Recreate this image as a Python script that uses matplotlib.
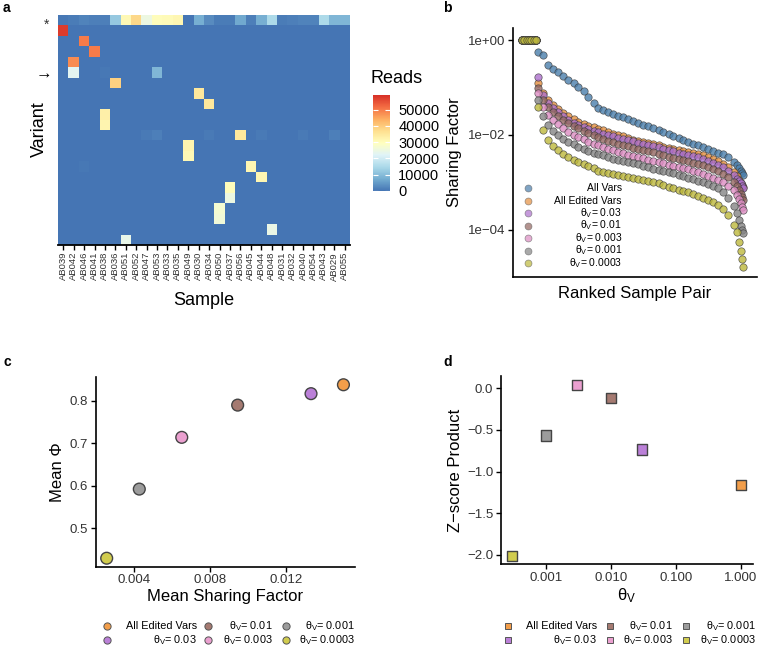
import numpy as np
import matplotlib
matplotlib.use('Agg')
import matplotlib.pyplot as plt
from matplotlib.colors import LinearSegmentedColormap
from matplotlib.lines import Line2D

plt.rcParams['font.family'] = ['Liberation Sans', 'DejaVu Sans']
plt.rcParams['mathtext.fontset'] = 'custom'
plt.rcParams['mathtext.rm'] = 'Liberation Sans'
plt.rcParams['mathtext.it'] = 'Liberation Sans:italic'
plt.rcParams['mathtext.bf'] = 'Liberation Sans:bold'

W, H = 758, 648

# ---------------- panel a data ----------------
samples = ['AB039', 'AB042', 'AB046', 'AB041', 'AB038', 'AB036', 'AB051', 'AB052',
           'AB047', 'AB053', 'AB033', 'AB035', 'AB049', 'AB030', 'AB034', 'AB050',
           'AB037', 'AB056', 'AB045', 'AB044', 'AB048', 'AB031', 'AB032', 'AB040',
           'AB054', 'AB043', 'AB029', 'AB055']
n_variants = 22
star_reads = [500, 1000, 2000, 1500, 1500, 12000, 31000, 38000, 25000, 30000, 30500,
              31500, 0, 8000, 3000, 1000, 1000, 7000, 1500, 8000, 15000, 1000, 1500,
              2000, 2000, 15000, 9000, 9000]
cell_variant = [1, 2, 3, 4, 5, 5, 6, 7, 8, 9, 10, 11, 12, 13, 14, 15, 16, 17, 18, 19, 20, 21,
                11, 11, 11, 11, 11, 11, 14, 5]
cell_sample = ['AB039', 'AB046', 'AB041', 'AB042', 'AB042', 'AB053', 'AB036', 'AB030',
               'AB034', 'AB038', 'AB038', 'AB056', 'AB049', 'AB049', 'AB045', 'AB044',
               'AB037', 'AB037', 'AB050', 'AB050', 'AB048', 'AB051',
               'AB047', 'AB053', 'AB034', 'AB044', 'AB040', 'AB029', 'AB046', 'AB038']
cell_reads = [57500, 50000, 50000, 48000, 23000, 9000, 39000, 35000, 35000, 33000, 32000,
              35000, 32000, 31000, 31500, 31500, 30000, 25000, 27000, 26500, 24500, 24000,
              700, 1500, 900, 700, 900, 1500, 500, 500]
reads_max = 59000
reads_ticks = [0, 10000, 20000, 30000, 40000, 50000]
heat_colors = ['#4575b4', '#74add1', '#abd9e9', '#e0f3f8', '#ffffbf',
               '#fee090', '#fdae61', '#f46d43', '#d73027']

# ---------------- panel b data (log10 of sharing factor) ----------------
pair_rank = [1, 5, 9, 13, 17, 21, 25,
             29, 37, 46, 54, 63, 71, 80, 89, 97, 106, 114, 123, 131, 140, 148, 157,
             165, 174, 182, 191, 199, 208, 216, 225, 234, 242, 251, 259, 268, 276,
             285, 293, 302, 310, 319, 327, 336, 344, 353, 362, 367, 371, 375, 377, 378]
flat = [0.0] * 7
lsf_all_vars = flat + [
    -0.25, -0.31, -0.53, -0.60, -0.67, -0.76, -0.84, -0.91, -0.98, -1.08, -1.19, -1.32,
    -1.44, -1.48, -1.51, -1.55, -1.59, -1.62, -1.66, -1.71, -1.75, -1.78, -1.82, -1.86,
    -1.90, -1.94, -1.98, -2.03, -2.06, -2.10, -2.14, -2.18, -2.22, -2.26, -2.30, -2.34,
    -2.37, -2.41, -2.47, -2.56, -2.63, -2.69, -2.75, -2.79, -2.84]
lsf_all_edited = flat + [
    -0.91, -1.12, -1.26, -1.37, -1.46, -1.54, -1.61, -1.67, -1.72, -1.77, -1.81, -1.84,
    -1.87, -1.90, -1.93, -1.97, -2.00, -2.03, -2.07, -2.10, -2.12, -2.14, -2.17, -2.19,
    -2.22, -2.25, -2.28, -2.30, -2.32, -2.34, -2.36, -2.38, -2.41, -2.43, -2.47, -2.51,
    -2.55, -2.61, -2.68, -2.78, -2.87, -2.94, -3.01, -3.05, -3.09]
lsf_t0_03 = flat + [
    -0.77, -1.15, -1.32, -1.43, -1.52, -1.61, -1.68, -1.74, -1.79, -1.84, -1.88, -1.91,
    -1.94, -1.97, -2.00, -2.03, -2.06, -2.08, -2.11, -2.13, -2.16, -2.18, -2.21, -2.23,
    -2.26, -2.29, -2.32, -2.34, -2.37, -2.39, -2.42, -2.44, -2.47, -2.50, -2.54, -2.58,
    -2.63, -2.68, -2.75, -2.85, -2.92, -2.97, -3.02, -3.07, -3.12]
lsf_t0_01 = flat + [
    -1.02, -1.27, -1.41, -1.51, -1.60, -1.68, -1.75, -1.81, -1.86, -1.91, -1.96, -2.00,
    -2.04, -2.08, -2.12, -2.15, -2.18, -2.21, -2.24, -2.27, -2.29, -2.31, -2.34, -2.36,
    -2.39, -2.43, -2.46, -2.48, -2.50, -2.52, -2.55, -2.58, -2.61, -2.64, -2.68, -2.72,
    -2.76, -2.82, -2.89, -2.98, -3.08, -3.16, -3.25, -3.31, -3.37]
lsf_t0_003 = flat + [
    -1.12, -1.40, -1.57, -1.68, -1.77, -1.86, -1.93, -1.99, -2.04, -2.09, -2.14, -2.18,
    -2.22, -2.26, -2.29, -2.32, -2.35, -2.38, -2.42, -2.45, -2.47, -2.49, -2.52, -2.54,
    -2.57, -2.60, -2.63, -2.65, -2.67, -2.69, -2.72, -2.75, -2.78, -2.82, -2.86, -2.90,
    -2.94, -3.00, -3.07, -3.16, -3.26, -3.34, -3.44, -3.51, -3.58]
lsf_t0_001 = flat + [
    -1.26, -1.59, -1.79, -1.92, -2.01, -2.08, -2.14, -2.20, -2.25, -2.30, -2.34, -2.37,
    -2.40, -2.43, -2.46, -2.50, -2.53, -2.55, -2.57, -2.59, -2.62, -2.65, -2.68, -2.71,
    -2.73, -2.75, -2.77, -2.80, -2.84, -2.87, -2.90, -2.93, -2.96, -2.99, -3.03, -3.07,
    -3.12, -3.20, -3.32, -3.50, -3.65, -3.79, -3.92, -4.00, -4.07]
lsf_t0_0003 = flat + [
    -1.40, -1.89, -2.11, -2.23, -2.32, -2.40, -2.46, -2.52, -2.57, -2.62, -2.66, -2.70,
    -2.75, -2.78, -2.80, -2.82, -2.84, -2.86, -2.88, -2.90, -2.92, -2.94, -2.96, -2.99,
    -3.02, -3.06, -3.09, -3.12, -3.15, -3.18, -3.21, -3.25, -3.28, -3.32, -3.37, -3.42,
    -3.48, -3.56, -3.68, -3.90, -4.04, -4.25, -4.45, -4.62, -4.77]

# ---------------- panel c / d data ----------------
theta_names = ['All Edited Vars', '0.03', '0.01', '0.003', '0.001', '0.0003']
mean_sharing = [0.01505, 0.01334, 0.00947, 0.00652, 0.00428, 0.00256]
mean_phi = [0.838, 0.817, 0.790, 0.714, 0.592, 0.429]
theta_v = [1.0, 0.03, 0.01, 0.003, 0.001, 0.0003]
zscore_product = [-1.16, -0.736, -0.113, 0.043, -0.568, -2.01]

cols6 = ['#f39e4a', '#bb80d8', '#a57a71', '#eba0d0', '#9c9c9c', '#d1cc4e']
cols_b = ['#4a7eab', '#e58f3f', '#ad70cc', '#936660', '#dc8cc2', '#858585', '#bdb83c']


def lab(name):
    if name.startswith('All'):
        return name
    return 'θ$_{\\mathregular{V}}$= ' + name


def rect(l, t, r, b):
    return [l / W, 1 - b / H, (r - l) / W, (b - t) / H]


def fx(x):
    return x / W


def fy(y):
    return 1 - y / H


fig = plt.figure(figsize=(W / 100, H / 100), dpi=100)
tick_col = '#333333'

# ================= panel a =================
axA = fig.add_axes(rect(58, 15, 350, 245))
mat = np.zeros((n_variants, len(samples)))
mat[0, :] = star_reads
for v, s, r in zip(cell_variant, cell_sample, cell_reads):
    mat[v, samples.index(s)] = r
cmap = LinearSegmentedColormap.from_list('rdylbu_r', heat_colors)
im = axA.imshow(mat, cmap=cmap, vmin=0, vmax=reads_max, aspect='auto',
                interpolation='nearest',
                extent=(-0.5, len(samples) - 0.5, n_variants - 0.5, -0.5))
axA.set_xticks(range(len(samples)))
axA.set_xticklabels(samples, rotation=90, fontsize=6.8, color=tick_col)
axA.set_yticks([])
for s in ['top', 'right', 'left']:
    axA.spines[s].set_visible(False)
axA.spines['bottom'].set_linewidth(1.3)
axA.tick_params(axis='x', length=3.5, width=1, pad=1.5)
fig.text(fx(39.5), fy(129), 'Variant', rotation=90, fontsize=13, ha='center', va='center')
fig.text(fx(204), fy(305), 'Sample', fontsize=13, ha='center', va='baseline')
fig.text(fx(47), fy(25), '*', fontsize=10, ha='center', va='center', color='#333333')
fig.text(fx(44), fy(74), '→', fontsize=12, ha='center', va='center')
fig.text(fx(3), fy(12), 'a', fontsize=10, fontweight='bold', ha='left', va='baseline')

cax = fig.add_axes(rect(373, 95, 390, 191))
cb = fig.colorbar(im, cax=cax, ticks=reads_ticks)
cb.outline.set_visible(False)
cax.yaxis.set_ticks_position('both')
cax.tick_params(direction='in', length=3.5, color='white', width=0.8,
                labelsize=10.5, pad=6, labelright=True, labelleft=False)
cb.set_ticklabels([str(t) for t in reads_ticks])
fig.text(fx(370), fy(83), 'Reads', fontsize=13, ha='left', va='baseline')

# ================= panel b =================
axB = fig.add_axes(rect(513, 28, 757, 277))
series_b = [('All Vars', lsf_all_vars, cols_b[0]),
            ('All Edited Vars', lsf_all_edited, cols_b[1]),
            ('0.03', lsf_t0_03, cols_b[2]),
            ('0.01', lsf_t0_01, cols_b[3]),
            ('0.003', lsf_t0_003, cols_b[4]),
            ('0.001', lsf_t0_001, cols_b[5]),
            ('0.0003', lsf_t0_0003, cols_b[6])]
for name, vals, c in series_b:
    axB.scatter(pair_rank, 10 ** np.array(vals), s=28, facecolor=c,
                edgecolor='#3a3a3a', linewidth=0.5, alpha=0.8, zorder=3)
axB.set_yscale('log')
axB.set_ylim(10 ** -4.99, 10 ** 0.253)
axB.set_xlim(-14.4, 401.9)
axB.set_yticks([1, 1e-2, 1e-4])
axB.set_yticklabels(['1e+00', '1e−02', '1e−04'], fontsize=9.5, color=tick_col)
axB.yaxis.set_minor_locator(matplotlib.ticker.NullLocator())
axB.set_xticks([])
for s in ['top', 'right']:
    axB.spines[s].set_visible(False)
for s in ['left', 'bottom']:
    axB.spines[s].set_linewidth(1.2)
axB.tick_params(axis='y', length=3.5, width=1, pad=2)
fig.text(fx(454), fy(152.5), 'Sharing Factor', rotation=90, fontsize=12, ha='center', va='center')
fig.text(fx(635), fy(298), 'Ranked Sample Pair', fontsize=12, ha='center', va='baseline')
fig.text(fx(443), fy(12), 'b', fontsize=10, fontweight='bold', ha='left', va='baseline')
for i, (name, vals, c) in enumerate(series_b):
    yy = 188 + 12.5 * i
    fig.add_artist(Line2D([fx(528)], [fy(yy)], transform=fig.transFigure, marker='o',
                          markersize=5.0, markerfacecolor=c, markeredgecolor='#666666',
                          markeredgewidth=0.5, alpha=0.7, linestyle='none'))
    fig.text(fx(622), fy(yy), lab(name), fontsize=7.5, ha='right', va='center')

# ================= panel c =================
axC = fig.add_axes(rect(95.7, 376.7, 355, 566.7))
axC.scatter(mean_sharing, mean_phi, s=72, c=cols6, edgecolor='#444444', linewidth=1.0, zorder=3)
axC.set_xlim(0.00198, 0.01566)
axC.set_ylim(0.409, 0.857)
axC.set_xticks([0.004, 0.008, 0.012])
axC.set_xticklabels(['0.004', '0.008', '0.012'], fontsize=9.5, color=tick_col)
axC.set_yticks([0.5, 0.6, 0.7, 0.8])
axC.set_yticklabels(['0.5', '0.6', '0.7', '0.8'], fontsize=9.5, color=tick_col)
for s in ['top', 'right']:
    axC.spines[s].set_visible(False)
for s in ['left', 'bottom']:
    axC.spines[s].set_linewidth(1.2)
axC.tick_params(length=3.5, width=1, pad=2)
fig.text(fx(57), fy(471.7), 'Mean Φ', rotation=90, fontsize=12, ha='center', va='center')
fig.text(fx(225), fy(601), 'Mean Sharing Factor', fontsize=12, ha='center', va='baseline')
fig.text(fx(3), fy(366), 'c', fontsize=10, fontweight='bold', ha='left', va='baseline')

# ================= panel d =================
axD = fig.add_axes(rect(501, 376, 753, 564.3))
axD.scatter(theta_v, zscore_product, s=56, marker='s', c=cols6, edgecolor='#444444',
            linewidth=1.0, zorder=3)
axD.set_xscale('log')
axD.set_xlim(10 ** -3.69, 10 ** 0.185)
axD.set_ylim(-2.112, 0.148)
axD.set_xticks([0.001, 0.01, 0.1, 1.0])
axD.set_xticklabels(['0.001', '0.010', '0.100', '1.000'], fontsize=9.5, color=tick_col)
axD.xaxis.set_minor_locator(matplotlib.ticker.NullLocator())
axD.set_yticks([-2.0, -1.5, -1.0, -0.5, 0.0])
axD.set_yticklabels(['−2.0', '−1.5', '−1.0', '−0.5', '0.0'], fontsize=9.5, color=tick_col)
for s in ['top', 'right']:
    axD.spines[s].set_visible(False)
for s in ['left', 'bottom']:
    axD.spines[s].set_linewidth(1.2)
axD.tick_params(length=3.5, width=1, pad=2)
fig.text(fx(455), fy(470), 'Z−score Product', rotation=90, fontsize=12, ha='center', va='center')
fig.text(fx(627), fy(600), 'θ$_{\\mathregular{V}}$', fontsize=12, ha='center', va='baseline')
fig.text(fx(443), fy(366), 'd', fontsize=10, fontweight='bold', ha='left', va='baseline')

# ================= legends c / d =================
rows_y = [626, 640]
leg_c_mx = [107, 208, 286]
leg_c_tx = [197, 273, 355]
leg_d_mx = [508, 610, 686]
leg_d_tx = [597, 673, 756]
for i, name in enumerate(theta_names):
    col, row = i // 2, i % 2
    for mxs, txs, mk in [(leg_c_mx, leg_c_tx, 'o'), (leg_d_mx, leg_d_tx, 's')]:
        fig.add_artist(Line2D([fx(mxs[col])], [fy(rows_y[row])], transform=fig.transFigure,
                              marker=mk, markersize=5.2 if mk == 'o' else 4.8,
                              markerfacecolor=cols6[i], markeredgecolor='#555555',
                              markeredgewidth=0.7, linestyle='none'))
        fig.text(fx(txs[col]), fy(rows_y[row]), lab(name), fontsize=7.8, ha='right', va='center')

fig.savefig('out.png', dpi=100)
